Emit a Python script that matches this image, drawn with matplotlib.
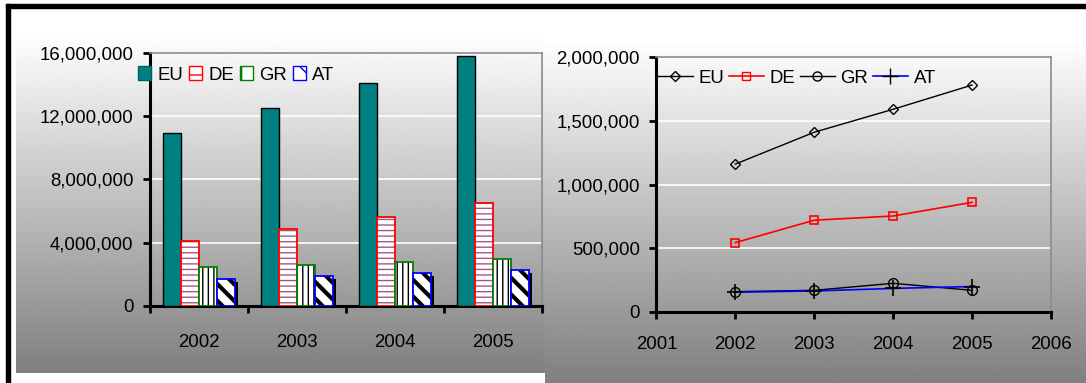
import numpy as np
import matplotlib
matplotlib.use("Agg")
import matplotlib.pyplot as plt
from matplotlib.patches import Patch, Rectangle
from matplotlib.lines import Line2D
from matplotlib.ticker import FuncFormatter, FixedLocator
from matplotlib.transforms import offset_copy

plt.rcParams['font.family'] = ['Liberation Sans', 'DejaVu Sans']
plt.rcParams['font.size'] = 13.4

# left chart: totals per year
years = ['2002', '2003', '2004', '2005']
eu_bars = [10950000, 12490000, 14070000, 15790000]
de_bars = [4120000, 4880000, 5620000, 6490000]
gr_bars = [2440000, 2590000, 2780000, 2990000]
at_bars = [1720000, 1900000, 2100000, 2270000]

# right chart: yearly series
line_years = [2002, 2003, 2004, 2005]
eu_line = [1160000, 1410000, 1590000, 1780000]
de_line = [544000, 720000, 753000, 860000]
gr_line = [160000, 170000, 225000, 170000]
at_line = [155000, 165000, 185000, 200000]

W, H = 1086, 383
fig = plt.figure(figsize=(W / 100, H / 100), dpi=100)

# background: grey gradients and black frame lines
bg = fig.add_axes([0, 0, 1, 1], zorder=-10)
grad = np.linspace(1.0, 0.5, 256)[:, None]
bg.imshow(grad, extent=(16, 545, 373, 33), cmap='gray', vmin=0, vmax=1,
          aspect='auto', origin='upper')
bg.imshow(grad, extent=(545, 1086, 383, 40), cmap='gray', vmin=0, vmax=1,
          aspect='auto', origin='upper')
bg.add_patch(Rectangle((6, 4), 1080, 3.5, color='black'))
bg.add_patch(Rectangle((6, 4), 4, 379, color='black'))
bg.set_xlim(0, W)
bg.set_ylim(H, 0)
bg.axis('off')

fmt = FuncFormatter(lambda v, p: f'{int(v):,}')


def style_axes(ax):
    ax.set_facecolor('none')
    for s in ('left', 'bottom'):
        ax.spines[s].set_linewidth(2.2)
        ax.spines[s].set_color('black')
    for s in ('top', 'right'):
        ax.spines[s].set_linewidth(1.2)
        ax.spines[s].set_color('#8c8c8c')
    ax.yaxis.set_major_formatter(fmt)
    ax.tick_params(axis='y', length=5, width=2, pad=7, direction='out')
    ax.grid(axis='y', color='white', linewidth=1.2)
    ax.set_axisbelow(True)


# ---- left: bar chart ----
ax1 = fig.add_axes([150 / W, 1 - 306 / H, 392 / W, 253.3 / H])
style_axes(ax1)
x = np.arange(len(years))
bw = 0.184
shadow = offset_copy(ax1.transData, fig=fig, x=3, y=-3, units='dots')

ax1.bar(x - 1.5 * bw, eu_bars, bw, color='#008080', edgecolor='black',
        linewidth=1, zorder=3)
ax1.bar(x - 0.5 * bw, de_bars, bw, facecolor='white', edgecolor='#a8557f',
        linewidth=0, hatch='---', zorder=3)
ax1.bar(x - 0.5 * bw, de_bars, bw, fill=False, edgecolor='red',
        linewidth=1.3, zorder=3)
ax1.bar(x + 0.5 * bw, gr_bars, bw, facecolor='white', edgecolor='black',
        linewidth=0, hatch='|||', zorder=3)
ax1.bar(x + 0.5 * bw, gr_bars, bw, fill=False, edgecolor='green',
        linewidth=1.3, zorder=3)
ax1.bar(x + 1.5 * bw, at_bars, bw, color='black', zorder=2, transform=shadow)
at = ax1.bar(x + 1.5 * bw, at_bars, bw, facecolor='white', edgecolor='black',
             linewidth=0, hatch='\\\\', zorder=3)
for b in at:
    if hasattr(b, 'set_hatch_linewidth'):
        b.set_hatch_linewidth(3.0)
ax1.bar(x + 1.5 * bw, at_bars, bw, fill=False, edgecolor='blue',
        linewidth=1.3, zorder=3)

ax1.set_xlim(-0.5, 3.5)
ax1.set_ylim(0, 16000000)
ax1.set_yticks(np.arange(0, 16000001, 4000000))
ax1.xaxis.set_major_locator(FixedLocator(np.arange(-0.5, 4, 1)))
ax1.xaxis.set_minor_locator(FixedLocator(x))
ax1.set_xticklabels([])
ax1.set_xticklabels(years, minor=True)
ax1.tick_params(axis='x', which='major', length=5, width=2, direction='out')
ax1.tick_params(axis='x', which='minor', length=0, pad=20)

h1 = [Patch(facecolor='#008080', edgecolor='#006060'),
      Patch(facecolor='white', edgecolor='red', hatch='-'),
      Patch(facecolor='white', edgecolor='green', hatch='|'),
      Patch(facecolor='white', edgecolor='blue', hatch='\\')]
ax1.legend(h1, ['EU', 'DE', 'GR', 'AT'], ncol=4, frameon=False,
           loc='center left', bbox_to_anchor=(-0.031, 0.912),
           handlelength=0.7, handleheight=0.72, handletextpad=0.33,
           columnspacing=0.33, borderaxespad=0, borderpad=0)

# ---- right: line chart ----
ax2 = fig.add_axes([656.4 / W, 1 - 312 / H, 394.6 / W, 255 / H])
style_axes(ax2)
ax2.plot(line_years, eu_line, color='black', lw=1, marker='D', ms=5.5,
         mfc='none', mec='black', zorder=3)
ax2.plot(line_years, de_line, color='red', lw=1.2, marker='s', ms=6,
         mfc='none', mec='red', mew=1.2, zorder=3)
ax2.plot(line_years, gr_line, color='black', lw=1, marker='o', ms=7,
         mfc='none', mec='black', zorder=3)
ax2.plot(line_years, at_line, color='blue', lw=1.2, marker='+', ms=11,
         mec='black', mew=1.2, zorder=3)
ax2.set_xlim(2001, 2006)
ax2.set_ylim(0, 2000000)
ax2.set_xticks(range(2001, 2007))
ax2.set_yticks(np.arange(0, 2000001, 500000))
ax2.tick_params(axis='x', length=5, width=2, pad=12, direction='out')

h2 = [Line2D([], [], color='black', lw=1, marker='D', ms=5, mfc='none'),
      Line2D([], [], color='red', lw=1.2, marker='s', ms=6, mfc='none'),
      Line2D([], [], color='black', lw=1, marker='o', ms=6.5, mfc='none'),
      Line2D([], [], color='blue', lw=1.2, marker='+', ms=11, mec='black')]
ax2.legend(h2, ['EU', 'DE', 'GR', 'AT'], ncol=4, frameon=False,
           loc='center left', bbox_to_anchor=(0.004, 0.9165), numpoints=1,
           handlelength=1.88, handletextpad=0.3, columnspacing=0.25,
           borderaxespad=0, borderpad=0)

fig.savefig('out.png', dpi=100)
